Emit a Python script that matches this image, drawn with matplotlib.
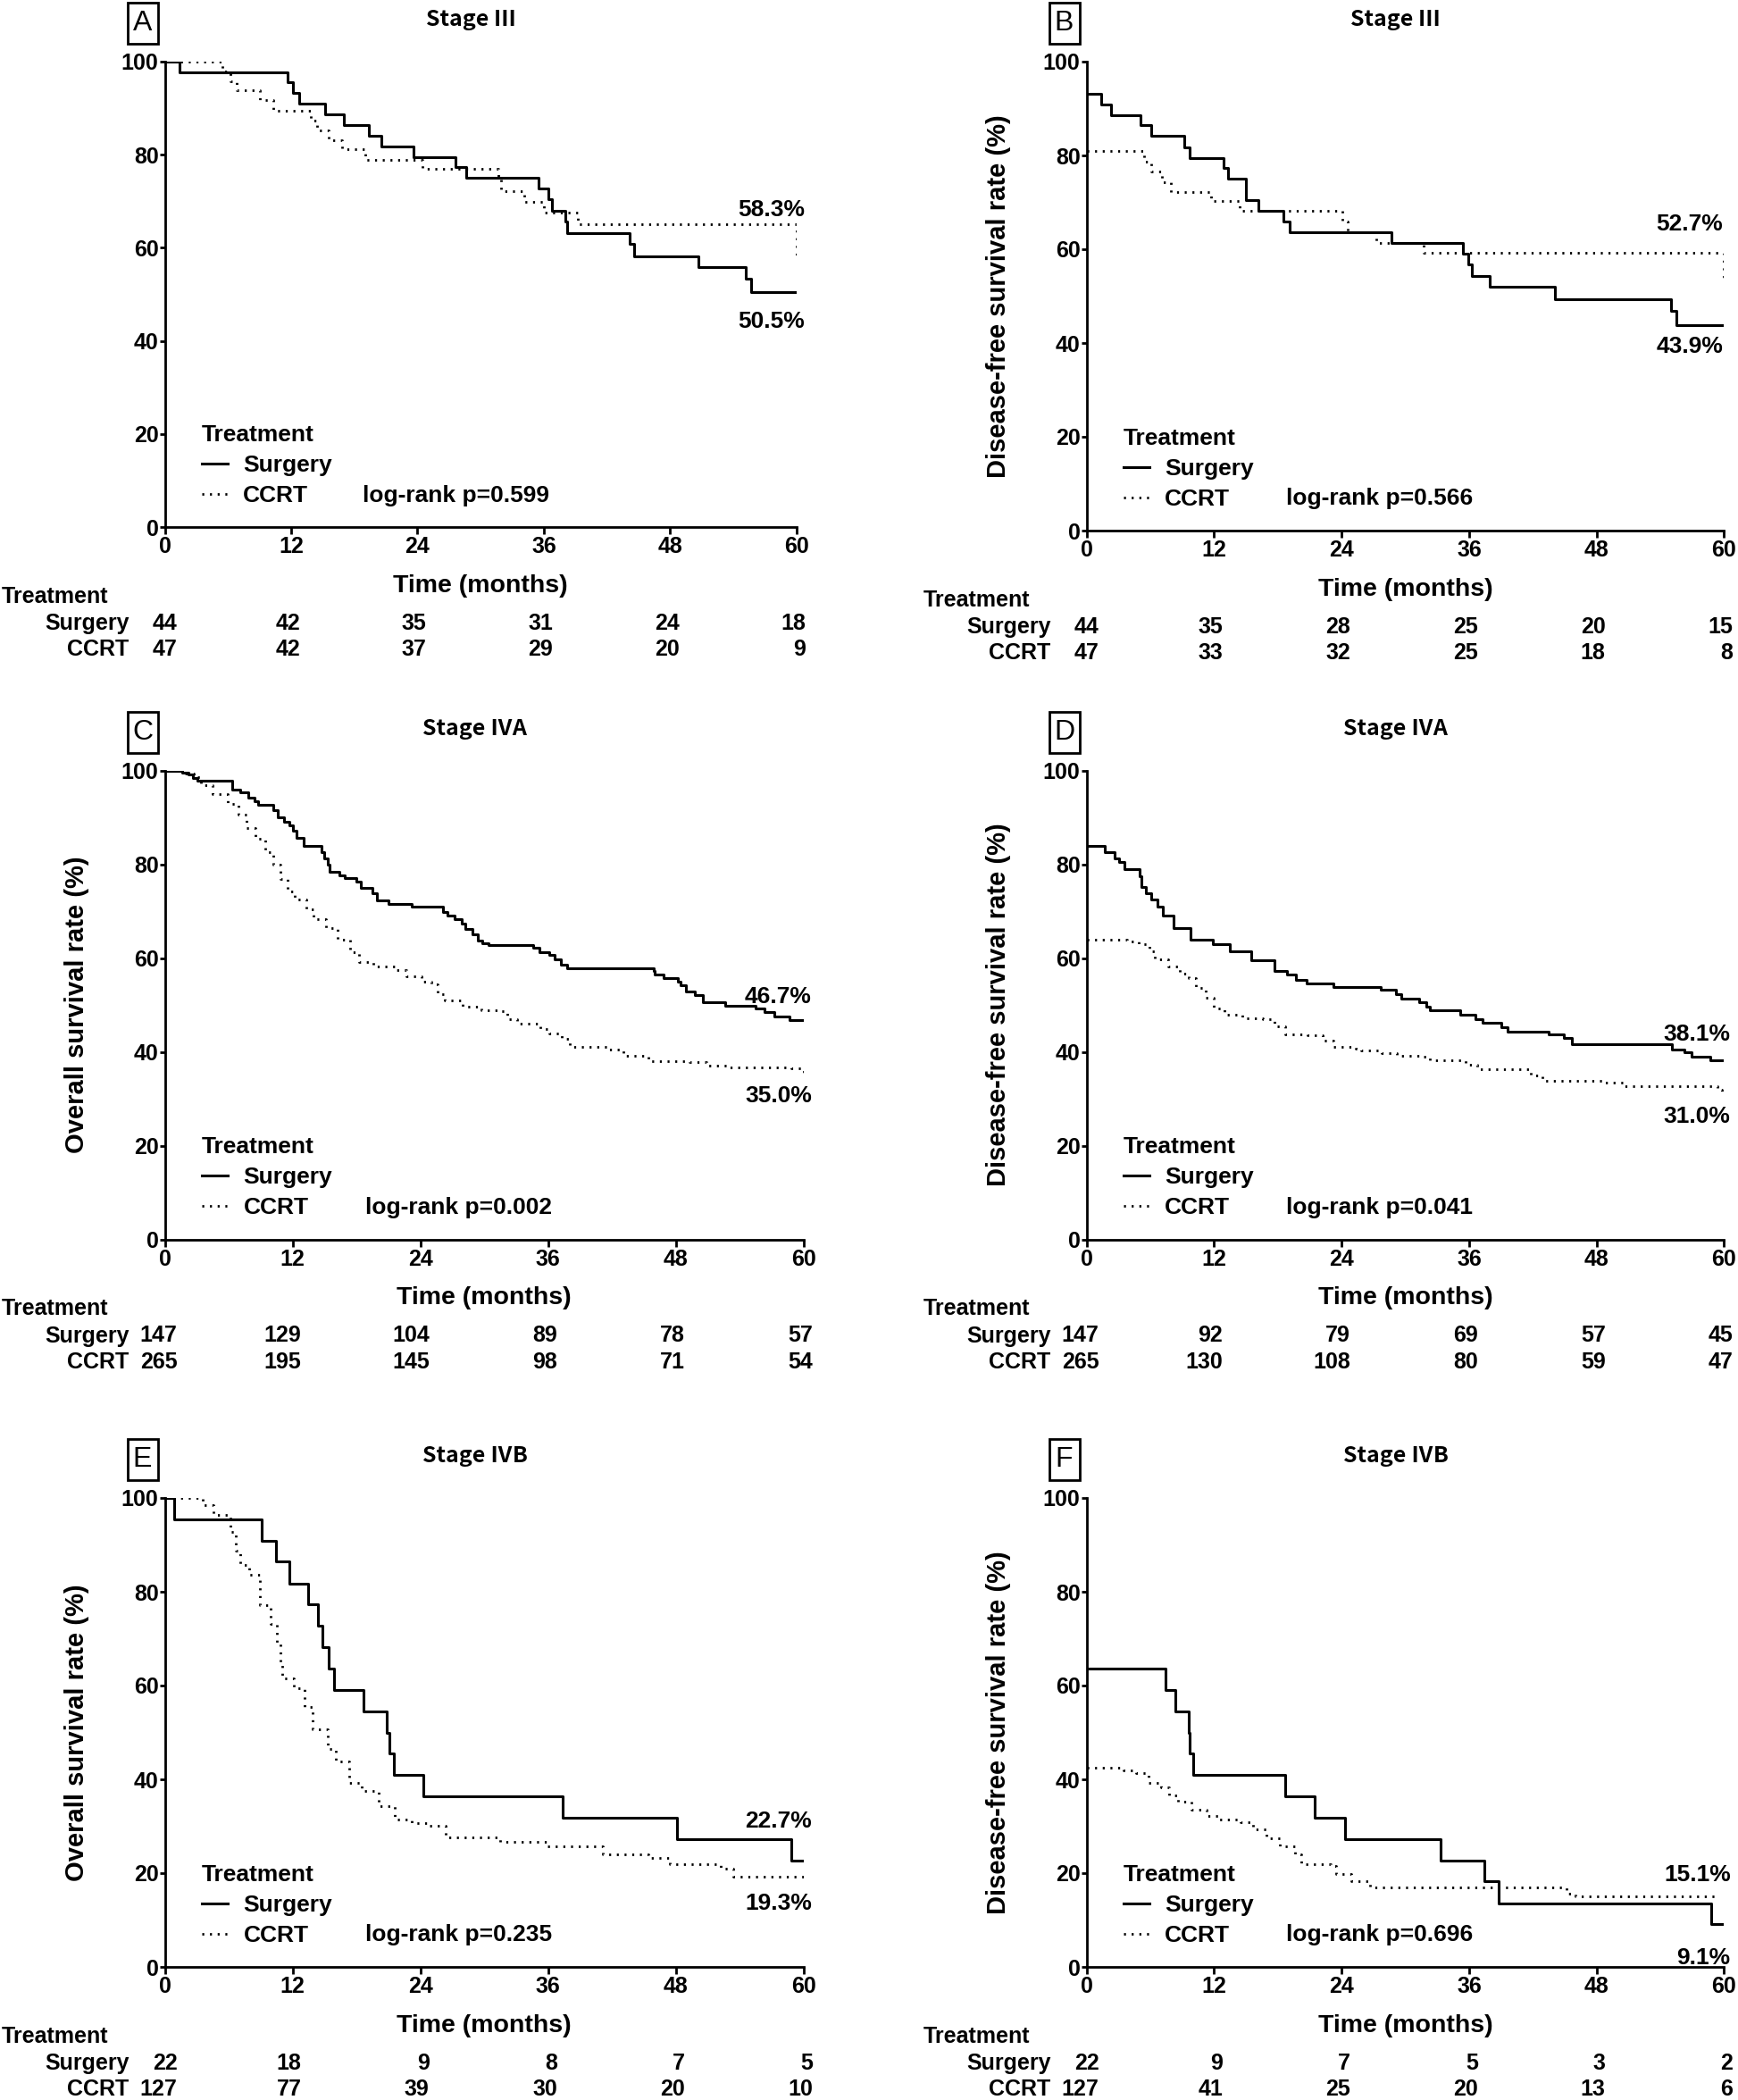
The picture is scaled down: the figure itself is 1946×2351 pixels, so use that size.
import matplotlib
matplotlib.use("Agg")
import matplotlib.pyplot as plt
from matplotlib.patches import Rectangle

plt.rcParams["font.family"] = ["Liberation Sans", "DejaVu Sans"]
plt.rcParams["font.weight"] = "bold"

W, H = 1946, 2351
months = [0, 12, 24, 36, 48, 60]

# ---- A: stage III, overall survival
a_surg_t = [0, 1.4, 11.7, 12.2, 12.8, 15.2, 17.0, 19.4, 20.6, 23.6, 27.6, 28.6, 35.5, 36.4,
            36.8, 38.0, 38.2, 44.1, 44.6, 50.7, 55.2, 55.7, 60]
a_surg_s = [100, 97.7, 95.5, 93.2, 90.9, 88.6, 86.4, 84.1, 81.8, 79.5, 77.3, 75.0, 72.7, 70.5,
            68.0, 65.7, 63.1, 60.8, 58.2, 55.8, 53.3, 50.5, 50.5]
a_ccrt_t = [0, 5.5, 6.2, 6.8, 9.0, 10.3, 13.9, 14.5, 15.6, 16.8, 19.0, 24.5, 31.7, 31.9, 34.1,
            36.0, 39.2, 60]
a_ccrt_s = [100, 97.9, 95.8, 93.9, 91.8, 89.5, 87.3, 85.3, 83.2, 81.1, 78.9, 76.9, 74.7, 72.2,
            69.9, 67.6, 65.0, 58.3]
a_risk_surg = [44, 42, 35, 31, 24, 18]
a_risk_ccrt = [47, 42, 37, 29, 20, 9]

# ---- B: stage III, disease-free survival
b_surg_t = [0, 1.4, 2.3, 5.1, 6.1, 9.2, 9.7, 12.9, 13.3, 15.0, 16.2, 18.5, 19.1, 28.7, 35.4,
            35.9, 36.3, 37.9, 44.1, 55.0, 55.5, 60]
b_surg_s = [93.2, 90.9, 88.6, 86.4, 84.1, 81.8, 79.5, 77.3, 75.0, 70.5, 68.2, 65.9, 63.6, 61.4,
            59.1, 56.8, 54.3, 52.0, 49.4, 46.8, 43.9, 43.9]
b_ccrt_t = [0, 5.4, 6.1, 7.1, 7.9, 11.7, 14.4, 24.1, 24.6, 27.3, 31.7, 60]
b_ccrt_s = [80.9, 78.7, 76.6, 74.3, 72.2, 70.2, 68.1, 66.0, 63.7, 61.4, 59.3, 52.7]
b_risk_surg = [44, 35, 28, 25, 20, 15]
b_risk_ccrt = [47, 33, 32, 25, 18, 8]

# ---- C: stage IVA, overall survival
c_surg_t = [0, 1.6, 2.2, 2.6, 3.1, 6.3, 7.1, 7.8, 8.4, 8.8, 10.2, 10.6, 11.2, 11.7, 12.0, 12.4,
            13.0, 14.7, 15.0, 15.3, 15.5, 16.4, 16.9, 18.0, 18.4, 19.5, 19.9, 21.0, 23.2, 26.1,
            26.5, 27.2, 27.9, 28.2, 28.9, 29.4, 29.8, 30.4, 34.6, 35.2, 36.1, 36.6, 37.2, 37.8,
            45.9, 46.0, 46.8, 48.2, 48.4, 48.9, 49.8, 50.5, 52.6, 55.5, 56.3, 57.2, 58.7, 60]
c_surg_s = [100, 99.5, 99.1, 98.4, 97.9, 95.9, 95.4, 94.2, 93.5, 92.6, 91.5, 90.0, 89.1, 88.2,
            87.1, 85.7, 84.0, 82.6, 81.3, 80.0, 78.4, 77.7, 77.0, 76.2, 75.0, 73.8, 72.3, 71.6,
            70.9, 69.9, 69.0, 68.3, 67.3, 66.1, 65.1, 63.8, 63.1, 62.7, 62.1, 61.3, 60.6, 59.8,
            58.6, 57.8, 57.2, 56.4, 55.7, 54.9, 54.2, 52.8, 52.1, 50.6, 49.9, 49.3, 48.4, 47.5,
            46.7, 46.7]
c_ccrt_t = [0, 2.0, 2.7, 3.4, 4.5, 5.9, 6.9, 7.7, 8.5, 9.4, 10.2, 10.9, 11.5, 12.2, 13.3, 14.0,
            15.1, 16.2, 17.4, 18.2, 19.6, 21.6, 22.7, 24.1, 25.0, 25.6, 26.3, 28.0, 29.7, 31.4,
            32.2, 33.1, 35.3, 36.1, 37.3, 38.0, 41.7, 43.1, 45.4, 49.3, 50.9, 52.9, 58.8, 60]
c_ccrt_s = [100, 99.4, 98.6, 96.9, 94.9, 92.8, 90.5, 87.7, 85.4, 82.6, 79.9, 76.8, 74.1, 72.4,
            70.4, 68.3, 66.3, 63.9, 61.2, 59.1, 58.2, 57.4, 56.1, 55.0, 54.4, 52.3, 51.0, 49.6,
            48.9, 48.6, 46.9, 46.0, 44.8, 43.9, 42.8, 41.1, 40.5, 39.2, 38.0, 37.8, 37.1, 36.6,
            36.4, 35.0]
c_risk_surg = [147, 129, 104, 89, 78, 57]
c_risk_ccrt = [265, 195, 145, 98, 71, 54]

# ---- D: stage IVA, disease-free survival
d_surg_t = [0, 1.7, 2.65, 3.1, 3.6, 5.0, 5.2, 5.6, 6.1, 6.7, 7.2, 8.2, 9.8, 11.9, 13.5, 15.5,
            17.7, 18.9, 19.7, 20.7, 23.2, 27.7, 29.1, 29.6, 31.3, 32.0, 32.3, 35.2, 36.6, 37.3,
            39.0, 39.6, 43.5, 44.9, 45.7, 55.1, 56.3, 56.9, 58.7, 60]
d_surg_s = [83.9, 82.6, 81.3, 80.4, 78.9, 77.5, 75.1, 73.8, 72.4, 71.0, 69.0, 66.3, 64.0, 62.9,
            61.5, 59.5, 57.3, 56.4, 55.4, 54.5, 53.9, 53.2, 52.3, 51.4, 50.6, 49.6, 48.9, 47.9,
            46.9, 46.2, 45.2, 44.3, 43.7, 43.0, 41.6, 40.5, 39.9, 39.0, 38.2, 38.1]
d_ccrt_t = [0, 3.8, 4.9, 5.9, 6.4, 7.7, 8.8, 9.6, 10.3, 11.2, 12.0, 13.0, 14.7, 16.6, 17.7,
            18.7, 20.8, 22.2, 23.2, 25.3, 25.8, 27.8, 29.2, 31.5, 32.3, 35.7, 36.8, 41.8, 42.9,
            48.8, 50.5, 59.4, 59.8, 60]
d_ccrt_s = [63.9, 63.5, 62.9, 61.5, 59.8, 58.1, 56.7, 55.7, 53.7, 51.6, 49.3, 47.9, 47.2, 46.9,
            45.5, 43.8, 43.5, 42.3, 41.1, 40.7, 40.3, 39.7, 39.2, 39.0, 38.2, 37.3, 36.3, 34.9,
            33.9, 33.4, 32.6, 31.9, 31.5, 31.0]
d_risk_surg = [147, 92, 79, 69, 57, 45]
d_risk_ccrt = [265, 130, 108, 80, 59, 47]

# ---- E: stage IVB, overall survival
e_surg_t = [0, 0.9, 9.1, 10.4, 11.7, 13.5, 14.4, 14.8, 15.4, 15.9, 18.7, 20.8, 21.1, 21.5, 24.3,
            37.4, 48.1, 58.8, 60]
e_surg_s = [100, 95.5, 90.9, 86.4, 81.8, 77.3, 72.7, 68.2, 63.6, 59.1, 54.5, 50.0, 45.5, 40.9,
            36.4, 31.8, 27.3, 22.7, 22.7]
e_ccrt_t = [0, 3.6, 4.6, 6.2, 6.7, 7.1, 7.9, 8.9, 9.9, 10.5, 10.9, 11.0, 12.1, 13.1, 13.9, 15.3,
            16.1, 17.3, 18.5, 20.1, 21.6, 23.2, 24.8, 26.4, 31.5, 35.9, 41.1, 45.4, 47.4, 52.2,
            53.4, 60]
e_ccrt_s = [100, 98.4, 96.3, 92.8, 88.8, 85.7, 83.6, 77.2, 73.1, 68.9, 64.9, 61.5, 59.4, 55.4,
            50.6, 46.5, 43.8, 39.3, 37.6, 34.2, 31.5, 30.7, 30.1, 27.7, 26.7, 25.8, 24.0, 23.3,
            21.9, 20.9, 19.3, 19.3]
e_risk_surg = [22, 18, 9, 8, 7, 5]
e_risk_ccrt = [127, 77, 39, 30, 20, 10]

# ---- F: stage IVB, disease-free survival
f_surg_t = [0, 7.4, 8.4, 9.6, 9.7, 10.0, 18.7, 21.5, 24.3, 33.3, 37.4, 38.8, 58.8, 60]
f_surg_s = [63.6, 59.1, 54.5, 50.0, 45.5, 40.9, 36.4, 31.8, 27.3, 22.7, 18.2, 13.6, 9.1, 9.1]
f_ccrt_t = [0, 3.5, 4.7, 5.8, 7.0, 7.8, 8.6, 9.9, 11.3, 12.5, 14.5, 15.7, 16.9, 18.2, 19.6, 20.2,
            23.0, 23.5, 24.9, 26.7, 45.2, 46.0, 59.5]
f_ccrt_s = [42.5, 42.0, 41.4, 39.3, 38.3, 36.6, 35.2, 33.5, 32.2, 31.4, 30.8, 29.4, 27.4, 25.7,
            24.0, 21.9, 21.6, 19.8, 18.2, 17.0, 15.7, 15.1, 15.1]
f_risk_surg = [22, 9, 7, 5, 3, 2]
f_risk_ccrt = [127, 41, 25, 20, 13, 6]

letters = ["A", "B", "C", "D", "E", "F"]
titles = ["Stage Ⅲ", "Stage Ⅲ", "Stage ⅣA", "Stage ⅣA", "Stage ⅣB", "Stage ⅣB"]
ylabels = ["", "Disease-free survival rate (%)", "Overall survival rate (%)",
           "Disease-free survival rate (%)", "Overall survival rate (%)",
           "Disease-free survival rate (%)"]
pvalues = ["0.599", "0.566", "0.002", "0.041", "0.235", "0.696"]
end_labels = [("58.3%", 68.1, "50.5%", 44.1), ("52.7%", 65.3, "43.9%", 39.2),
              ("46.7%", 51.7, "35.0%", 30.6), ("38.1%", 43.7, "31.0%", 26.2),
              ("22.7%", 31.0, "19.3%", 13.5), ("15.1%", 19.6, "9.1%", 1.9)]
label_x = [60.8, 59.9, 60.75, 60.6, 60.75, 60.6]

curves = [
    (a_surg_t, a_surg_s, a_ccrt_t, a_ccrt_s, a_risk_surg, a_risk_ccrt),
    (b_surg_t, b_surg_s, b_ccrt_t, b_ccrt_s, b_risk_surg, b_risk_ccrt),
    (c_surg_t, c_surg_s, c_ccrt_t, c_ccrt_s, c_risk_surg, c_risk_ccrt),
    (d_surg_t, d_surg_s, d_ccrt_t, d_ccrt_s, d_risk_surg, d_risk_ccrt),
    (e_surg_t, e_surg_s, e_ccrt_t, e_ccrt_s, e_risk_surg, e_risk_ccrt),
    (f_surg_t, f_surg_s, f_ccrt_t, f_ccrt_s, f_risk_surg, f_risk_ccrt),
]

# axes boxes in pixels: left, top, right, bottom
boxes = [(184.5, 69, 892, 590), (1216.5, 69, 1930.5, 594),
         (184.5, 862.5, 900, 1387.5), (1216.5, 862.5, 1930.5, 1387.5),
         (184.5, 1677, 900, 2202), (1216.5, 1677, 1930.5, 2202)]

dotted = (0, (0.8, 2.3))
title_font = ["Noto Sans CJK SC", "DejaVu Sans"]

fig = plt.figure(figsize=(W / 100, H / 100), dpi=100)

for i, (l, t, r, b) in enumerate(boxes):
    ax = fig.add_axes([l / W, 1 - b / H, (r - l) / W, (b - t) / H])
    st, ss, ct, cs, rs, rc = curves[i]

    h1, = ax.step(st, ss, where="post", color="black", lw=2.2, label="Surgery")
    h2, = ax.step(ct, cs, where="post", color="black", lw=2.0, linestyle=dotted,
                  label="CCRT")

    ax.set_xlim(0, 60)
    ax.set_ylim(0, 100)
    ax.set_xticks(months)
    ax.set_yticks([0, 20, 40, 60, 80, 100])
    for s in ["top", "right"]:
        ax.spines[s].set_visible(False)
    for s in ["left", "bottom"]:
        ax.spines[s].set_linewidth(2.0)
    ax.tick_params(axis="x", length=5.5, width=2.0, pad=2, labelsize=18)
    ax.tick_params(axis="y", length=4, width=2.0, pad=1, labelsize=18)

    leg = ax.legend(handles=[h1, h2], title="Treatment", loc="lower left",
                    bbox_to_anchor=(3.5 / 60, 0.044), frameon=False, fontsize=19,
                    title_fontsize=19, handlelength=1.1, handletextpad=0.65,
                    labelspacing=0.38, borderpad=0, borderaxespad=0, alignment="left")
    leg.get_title().set_fontweight("bold")

    ax.text(18.8, 6.8, "log-rank p=" + pvalues[i], fontsize=19, va="center", ha="left")

    hi, hy, lo, ly = end_labels[i]
    ax.text(label_x[i], hy, hi, fontsize=19, ha="right", va="center")
    ax.text(label_x[i], ly, lo, fontsize=19, ha="right", va="center")

    # panel letter in a box, title
    cx, cy = l - 25, t - 43
    fig.patches.append(Rectangle(((cx - 17) / W, 1 - (cy + 23) / H), 34 / W, 46 / H,
                                 transform=fig.transFigure, fill=False, ec="black", lw=2))
    fig.text(cx / W, 1 - cy / H, letters[i], ha="center", va="center", fontsize=23,
             fontweight="normal")
    ax.annotate(titles[i], xy=(0.485, 1), xycoords="axes fraction", xytext=(0, 47),
                textcoords="offset pixels", ha="center", va="center", fontsize=18,
                family=title_font)

    ax.annotate("Time (months)", xy=(0.5, 0), xycoords="axes fraction", xytext=(0, -66),
                textcoords="offset pixels", ha="center", va="center", fontsize=20.5)
    if ylabels[i]:
        ax.annotate(ylabels[i], xy=(0, 0.5), xycoords="axes fraction", xytext=(-98, 0),
                    textcoords="offset pixels", ha="center", va="center", fontsize=21,
                    rotation=90)

    # number at risk table
    ax.annotate("Treatment", xy=(0, 0), xycoords="axes fraction", xytext=(-183, -78),
                textcoords="offset pixels", ha="left", va="center", fontsize=18)
    ax.annotate("Surgery", xy=(0, 0), xycoords="axes fraction", xytext=(-40, -108),
                textcoords="offset pixels", ha="right", va="center", fontsize=18)
    ax.annotate("CCRT", xy=(0, 0), xycoords="axes fraction", xytext=(-40, -137),
                textcoords="offset pixels", ha="right", va="center", fontsize=18)
    tr = ax.get_xaxis_transform()
    for m, n1, n2 in zip(months, rs, rc):
        dx = 14 if m == 0 else 10
        ax.annotate(str(n1), xy=(m, 0), xycoords=tr, xytext=(dx, -108),
                    textcoords="offset pixels", ha="right", va="center", fontsize=18)
        ax.annotate(str(n2), xy=(m, 0), xycoords=tr, xytext=(dx, -137),
                    textcoords="offset pixels", ha="right", va="center", fontsize=18)

fig.savefig("out.png", dpi=100, facecolor="white")
